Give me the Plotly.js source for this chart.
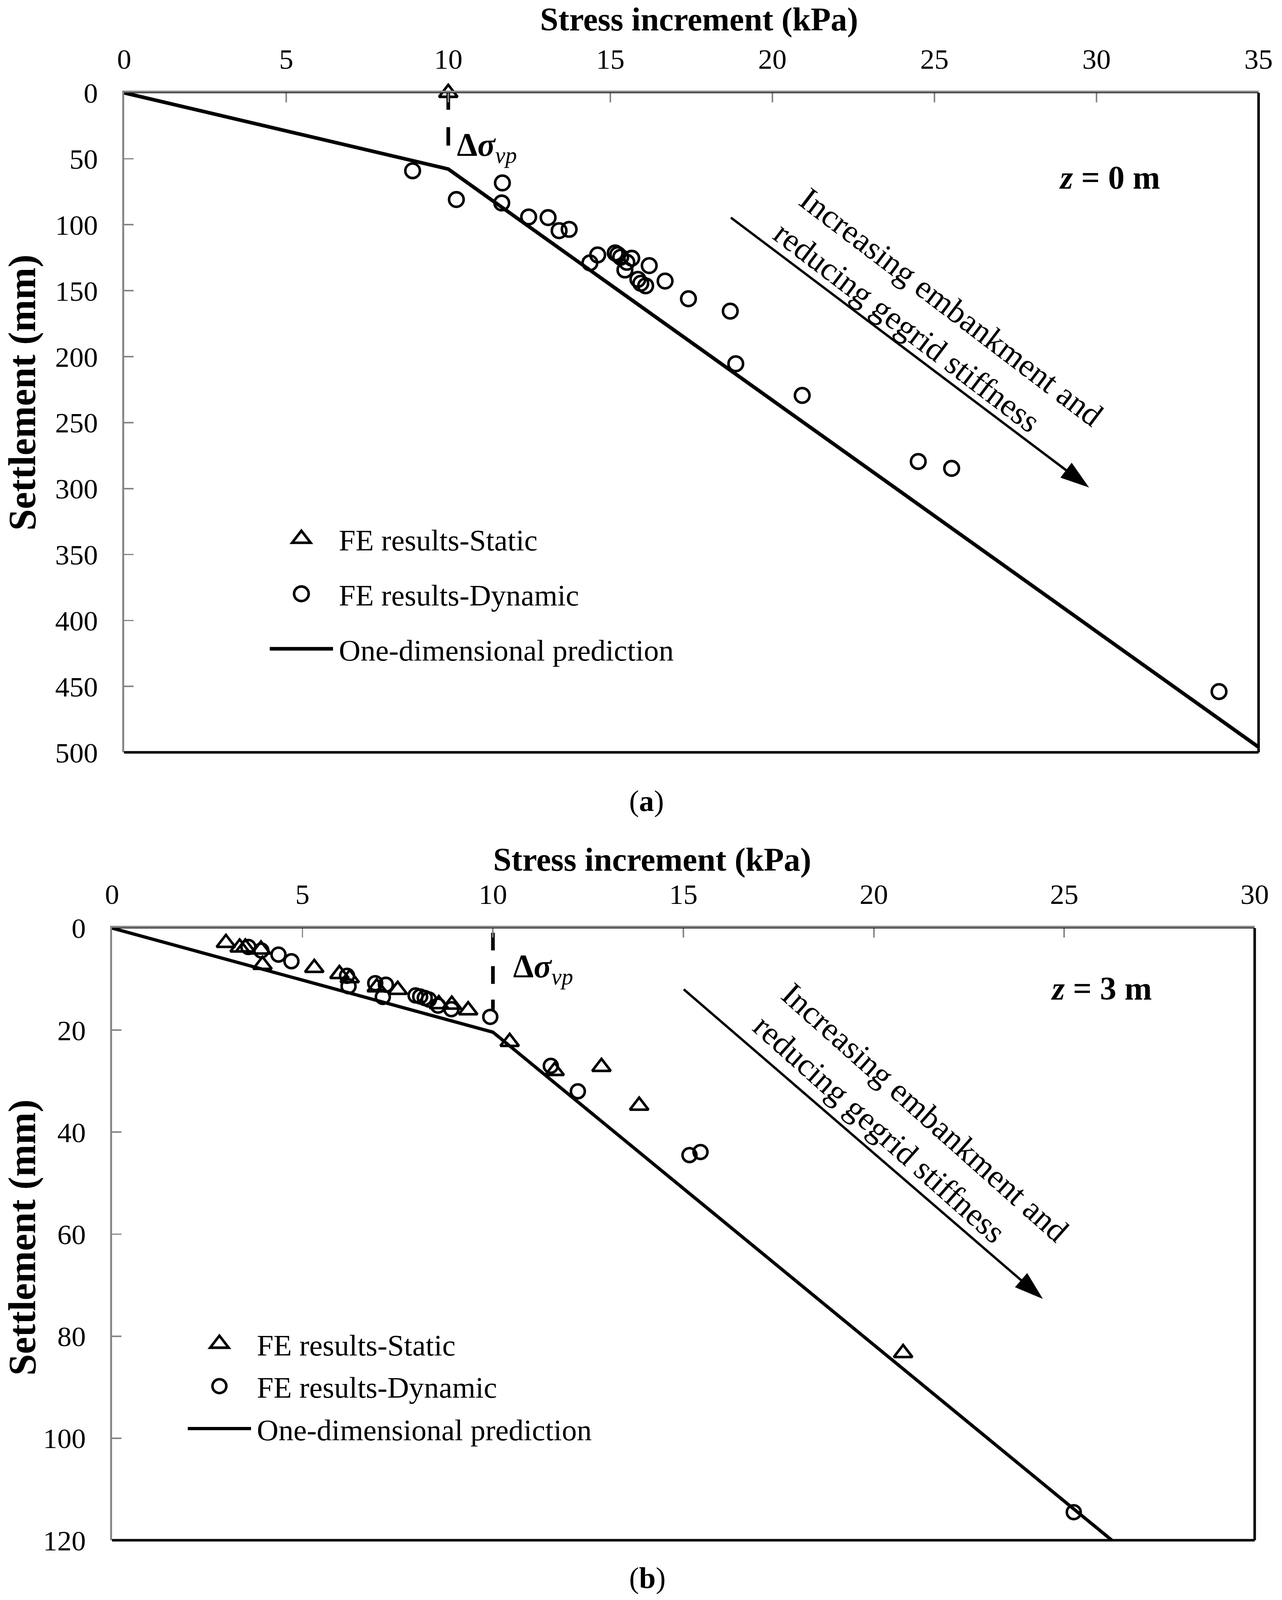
<!DOCTYPE html>
<html><head><meta charset="utf-8">
<script src="https://cdn.plot.ly/plotly-3.0.1.min.js"></script>
<style>
html,body{margin:0;padding:0;background:#fff;overflow:hidden}
#wrap{overflow:hidden;position:relative;background:#fff}
#chart{position:absolute;left:0;top:0;transform-origin:0 0;}
</style></head><body>
<div id="wrap"><div id="chart"></div></div>
<script>
// ---------------- data ----------------
// Panel (a): z = 0 m
const xTicksA = [0, 5, 10, 15, 20, 25, 30, 35];
const yTicksA = [0, 50, 100, 150, 200, 250, 300, 350, 400, 450, 500];
const predA_x = [0, 10, 35];
const predA_y = [0, 57.8, 496];
const statA_x = [null];
const statA_y = [null];
const dynA_x = [8.9, 10.25, 11.67, 11.65, 12.48, 13.08, 13.42, 13.73, 14.61, 14.37, 15.15, 15.23, 15.32, 15.66, 15.51, 15.45, 16.2, 15.85, 15.94, 16.09, 16.69, 17.41, 18.7, 18.87, 20.92, 24.5, 25.53, 33.78];
const dynA_y = [59.1, 80.9, 68.3, 83.5, 94.1, 94.6, 104.5, 103.5, 122.9, 128.9, 121.4, 122.6, 124.6, 125.4, 128.5, 134.3, 131.0, 141.4, 144.4, 146.3, 142.7, 156.1, 165.5, 205.4, 229.4, 279.5, 284.7, 453.9];
const dvpA_x = [10, 10];
const dvpA_y = [40, 0];
const trendA_x = [18.72, 29.77];
const trendA_y = [94.6, 299.2];

// Panel (b): z = 3 m
const xTicksB = [0, 5, 10, 15, 20, 25, 30];
const yTicksB = [0, 20, 40, 60, 80, 100, 120];
const predB_x = [0, 10, 26.25];
const predB_y = [0, 20.4, 120];
const statB_x = [2.99, 3.35, 3.5, 3.91, 3.95, 5.31, 5.97, 6.24, 6.95, 7.5, 8.58, 8.92, 9.35, 10.44, 11.62, 12.85, 13.84, 20.77];
const statB_y = [2.9, 3.8, 3.8, 4.2, 7.2, 7.8, 9.0, 9.8, 11.6, 12.1, 14.9, 15.0, 16.1, 22.3, 28.0, 27.2, 34.8, 83.3];
const dynB_x = [3.58, 3.92, 4.37, 4.71, 6.17, 6.21, 6.91, 7.19, 7.11, 7.97, 8.09, 8.21, 8.32, 8.56, 8.91, 9.93, 11.52, 12.23, 15.16, 15.45, 25.25];
const dynB_y = [3.7, 4.4, 5.2, 6.5, 9.35, 11.4, 10.8, 11.1, 13.5, 13.2, 13.4, 13.7, 14.0, 15.2, 15.9, 17.4, 27.0, 32.0, 44.5, 43.9, 114.5];
const dvpB_x = [10, 10];
const dvpB_y = [0.9, 16];
const trendB_x = [15.01, 24.44];
const trendB_y = [12.0, 72.7];

const names = ['FE results-Static', 'FE results-Dynamic', 'One-dimensional prediction'];

// ---------------- geometry helpers ----------------
// Positions are given in the reference's pixel frame (3283 x 4688) and mapped
// onto the real viewport; the chart is drawn at 1/S and scaled up with CSS.
const W0 = 3283, H0 = 4688;
const IW = window.innerWidth || W0, IH = window.innerHeight || H0;
const sx = IW / W0, sy = IH / H0, k = Math.sqrt(sx * sy);
const S = 3;
const px = v => v * k / S;
const fx = x => x / W0;
const fy = y => 1 - y / H0;
const deg = a => Math.atan(Math.tan(a * Math.PI / 180) * sy / sx) * 180 / Math.PI;
const FONT = 'Liberation Serif, Times New Roman, serif';
const GREY = '#868686';

function axX(domain, range, ticks, anchor) {
  return {domain, range, anchor, side: 'top', tickvals: ticks, ticktext: ticks.map(String),
    ticks: 'inside', ticklen: px(26), tickwidth: px(4), tickcolor: GREY,
    showline: true, linecolor: GREY, linewidth: px(6), showgrid: false, zeroline: false,
    tickfont: {family: FONT, size: px(78), color: '#000'},
    ticklabelstandoff: Math.max(0, Math.round((97 * sy - 62 * k) / S)), fixedrange: true};
}
function axY(domain, range, ticks, anchor) {
  return {domain, range, anchor, tickvals: ticks, ticktext: ticks.map(String),
    ticks: 'inside', ticklen: px(26), tickwidth: px(4), tickcolor: GREY,
    showline: true, linecolor: GREY, linewidth: px(5), showgrid: false, zeroline: false,
    tickfont: {family: FONT, size: px(78), color: '#000'},
    ticklabelstandoff: Math.max(0, Math.round((68 * sx - 21 * k) / S)), fixedrange: true};
}

function panelTraces(xa, ya, leg, g, stat, dyn, pred, dvp, dvpDash, dvpHead, trend, mk) {
  return [
    {x: stat[0], y: stat[1], xaxis: xa, yaxis: ya, type: 'scatter', mode: 'markers', name: names[0],
      legend: leg, legendgroup: g + '1', showlegend: true,
      marker: {symbol: 'triangle-up-open', size: px(mk.tri), color: '#000', opacity: 1, line: {color: '#000', width: px(mk.lw)}}},
    {x: dyn[0], y: dyn[1], xaxis: xa, yaxis: ya, type: 'scatter', mode: 'markers', name: names[1],
      legend: leg, legendgroup: g + '2',
      marker: {symbol: 'circle-open', size: px(mk.circ), color: '#000', opacity: 1, line: {color: '#000', width: px(mk.lw)}}},
    {x: pred[0], y: pred[1], xaxis: xa, yaxis: ya, type: 'scatter', mode: 'lines', name: names[2],
      legend: leg, legendgroup: g + '3', line: {color: '#000', width: px(mk.pw)}},
    {x: dvp[0], y: dvp[1], xaxis: xa, yaxis: ya, type: 'scatter', mode: dvpHead ? 'lines+markers' : 'lines',
      showlegend: false, cliponaxis: false, hoverinfo: 'skip',
      line: {color: '#000', width: px(10), dash: dvpDash},
      marker: {symbol: 'triangle-up-open', size: [0, px(44)], color: '#000', opacity: 1, line: {color: '#000', width: px(7)}}},
    {x: trend[0], y: trend[1], xaxis: xa, yaxis: ya, type: 'scatter', mode: 'lines+markers',
      showlegend: false, hoverinfo: 'skip', line: {color: '#000', width: px(6.5)},
      marker: {symbol: 'arrow', size: [0, px(83)], angleref: 'previous', color: '#000', opacity: 1, line: {width: 0, color: '#000'}}}
  ];
}

const dash = (a, b) => (a * sy / S).toFixed(2) + 'px,' + (b * sy / S).toFixed(2) + 'px';

const data = [].concat(
  panelTraces('x', 'y', 'legend', 'a', [statA_x, statA_y], [dynA_x, dynA_y], [predA_x, predA_y],
    [dvpA_x, dvpA_y], dash(54, 51), true, [trendA_x, trendA_y],
    {tri: 44, circ: 40, lw: 7, pw: 10}),
  panelTraces('x2', 'y2', 'legend2', 'b', [statB_x, statB_y], [dynB_x, dynB_y], [predB_x, predB_y],
    [dvpB_x, dvpB_y], dash(52, 46), false, [trendB_x, trendB_y],
    {tri: 44, circ: 38, lw: 7, pw: 9})
);

function ann(text, x, y, size, extra) {
  return Object.assign({text, x: fx(x), y: fy(y), xref: 'paper', yref: 'paper', showarrow: false,
    xanchor: 'center', yanchor: 'middle', font: {family: FONT, size: px(size), color: '#000'}}, extra || {});
}

const annotations = [
  ann('<b>Stress increment (kPa)</b>', 1790, 58, 90),
  ann('<b>Stress increment (kPa)</b>', 1670, 2520, 90),
  ann('<b>Settlement (mm)</b>', 60, 1150, 106, {textangle: -90}),
  ann('<b>Settlement (mm)</b>', 58, 3625, 106, {textangle: -90}),
  ann('(<b>a</b>)', 1658, 2349, 82),
  ann('(<b>b</b>)', 1659, 4623, 82),
  ann('<b><i>z</i> = 0 m</b>', 2842, 521, 90),
  ann('<b><i>z</i> = 3 m</b>', 2821, 2898, 90),
  ann('<b>Δ<i>σ</i></b><sub><i>vp</i></sub>', 1165, 432, 90, {xanchor: 'left'}),
  ann('<b>Δ<i>σ</i></b><sub><i>vp</i></sub>', 1308, 2837, 90, {xanchor: 'left'}),
  ann('Increasing embankment and<br>reducing gegrid stiffness', 2405, 950, 90, {textangle: deg(41), align: 'left'}),
  ann('Increasing embankment and<br>reducing gegrid stiffness', 2334, 3305, 90, {textangle: deg(45.5), align: 'left'})
];

function border(xa, ya) {
  const xr = xa + ' domain', yr = ya + ' domain';
  const ln = {color: '#000', width: px(7)};
  return [
    {type: 'line', xref: xr, yref: yr, x0: 0, x1: 1, y0: 0, y1: 0, line: ln},
    {type: 'line', xref: xr, yref: yr, x0: 1, x1: 1, y0: 0, y1: 1, line: ln},
    {type: 'line', xref: xr, yref: yr, x0: 0, x1: 1, y0: 1, y1: 1, line: {color: '#000', width: px(2)}}
  ];
}

const legendBase = {xanchor: 'left', yanchor: 'top', bgcolor: 'rgba(0,0,0,0)', borderwidth: 0,
  font: {family: FONT, size: px(82), color: '#000'}, itemwidth: 54, traceorder: 'grouped', itemsizing: 'trace'};
const gapA = Math.max(0, (162 * sy - 117 * k) / S);

const layout = {
  width: IW / S, height: IH / S, autosize: false,
  margin: {l: 0, r: 0, t: 0, b: 0, pad: 0},
  paper_bgcolor: '#fff', plot_bgcolor: '#fff',
  showlegend: true,
  font: {family: FONT, color: '#000'},
  xaxis: axX([fx(318), fx(3224)], [0, 35], xTicksA, 'y'),
  yaxis: axY([fy(2205), fy(272)], [500, 0], yTicksA, 'x'),
  xaxis2: axX([fx(287), fx(3214)], [0, 30], xTicksB, 'y2'),
  yaxis2: axY([fy(4514), fy(2720)], [120, 0], yTicksB, 'x2'),
  legend: Object.assign({}, legendBase, {x: fx(676), y: fy(1582 - 77 * k / sy), tracegroupgap: gapA}),
  legend2: Object.assign({}, legendBase, {x: fx(466), y: fy(3952 - 77 * k / sy - 11), tracegroupgap: 0}),
  annotations: annotations,
  shapes: [].concat(border('x', 'y'), border('x2', 'y2'))
};

const wrap = document.getElementById('wrap');
wrap.style.width = IW + 'px';
wrap.style.height = IH + 'px';
const el = document.getElementById('chart');
el.style.transform = 'scale(' + S + ')';
Plotly.newPlot(el, data, layout, {displayModeBar: false, staticPlot: true});
</script>
</body></html>
